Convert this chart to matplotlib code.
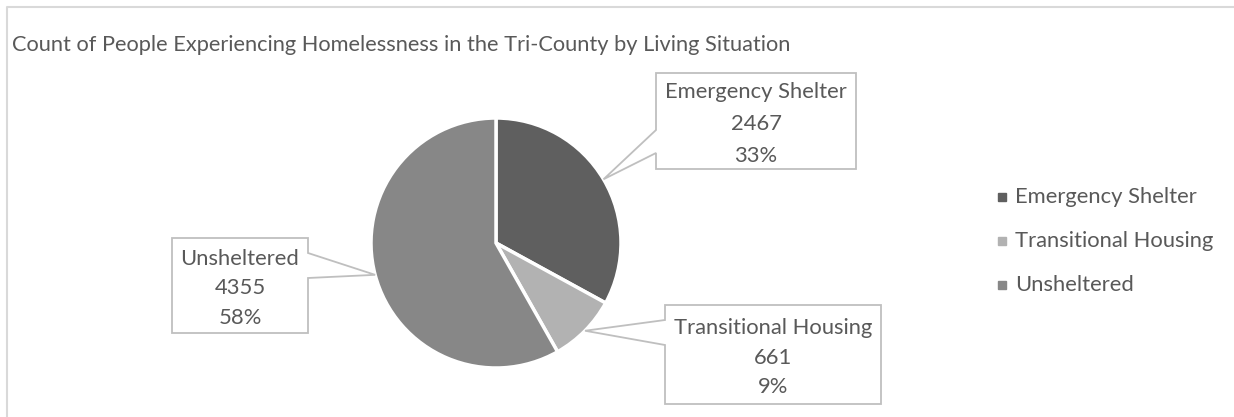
import numpy as np
import matplotlib
matplotlib.use("Agg")
import matplotlib.pyplot as plt
from matplotlib.patches import Polygon, Rectangle

plt.rcParams['font.family'] = ['Lato', 'DejaVu Sans']

# data
categories = ['Emergency Shelter', 'Transitional Housing', 'Unsheltered']
counts = [2467, 661, 4355]
colors = ['#5f5f5f', '#b2b2b2', '#878787']
title = 'Count of People Experiencing Homelessness in the Tri-County by Living Situation'

W, H = 1234, 417
txt_color = '#595959'
line_color = '#bfbfbf'

fig = plt.figure(figsize=(W / 100, H / 100), dpi=100)
ax = fig.add_axes([0, 0, 1, 1])
ax.set_xlim(0, W)
ax.set_ylim(0, H)
ax.set_aspect('equal')
ax.axis('off')

def Y(y):  # pixel row -> axis y
    return H - y

# chart border (only top and left visible)
ax.plot([6.5, 6.5, W + 5], [Y(H + 5), Y(6.5), Y(6.5)], color='#d9d9d9', lw=1.5)

ax.text(12, Y(45), title, fontsize=15.7, color=txt_color, va='center', ha='left')

cx, cy, R = 496, Y(243), 125
wedges, _ = ax.pie(counts, colors=colors, startangle=90, counterclock=False,
                   center=(cx, cy), radius=R,
                   wedgeprops=dict(edgecolor='white', linewidth=2.5))
ax.set_xlim(0, W)
ax.set_ylim(0, H)

total = sum(counts)

# callout boxes: (x0, x1, top, bottom, side, base_top, base_bottom, line gap)
boxes = [
    (656, 856, 73, 169, 'left', 130, 153, 1.72),
    (665, 881, 305, 404, 'left', 320, 345, 1.62),
    (172, 308, 238, 333, 'right', 253, 278, 1.62),
]

for w, cat, n, b in zip(wedges, categories, counts, boxes):
    x0, x1, top, bot, side, b1, b2, gap = b
    mid = np.deg2rad((w.theta1 + w.theta2) / 2)
    tip = (cx + R * np.cos(mid), cy + R * np.sin(mid))
    if side == 'left':
        pts = [(x0, Y(top)), (x1, Y(top)), (x1, Y(bot)), (x0, Y(bot)),
               (x0, Y(b2)), tip, (x0, Y(b1))]
    else:
        pts = [(x0, Y(top)), (x1, Y(top)), (x1, Y(b1)), tip, (x1, Y(b2)),
               (x1, Y(bot)), (x0, Y(bot))]
    ax.add_patch(Polygon(pts, closed=True, facecolor='white',
                         edgecolor=line_color, lw=1.3, zorder=3))
    label = f"{cat}\n{n}\n{n / total:.0%}"
    ax.text((x0 + x1) / 2, Y((top + bot) / 2 + 3), label, ha='center', va='center',
            fontsize=15.8, color=txt_color, linespacing=gap, zorder=4)

# legend
for i, (cat, c) in enumerate(zip(categories, colors)):
    yy = 197 + i * 44
    ax.add_patch(Rectangle((998, Y(yy) - 3.5), 7.5, 7.5, color=c))
    ax.text(1015, Y(yy), cat, fontsize=15.8, color=txt_color, va='center', ha='left')

fig.savefig('out.png', dpi=100)
